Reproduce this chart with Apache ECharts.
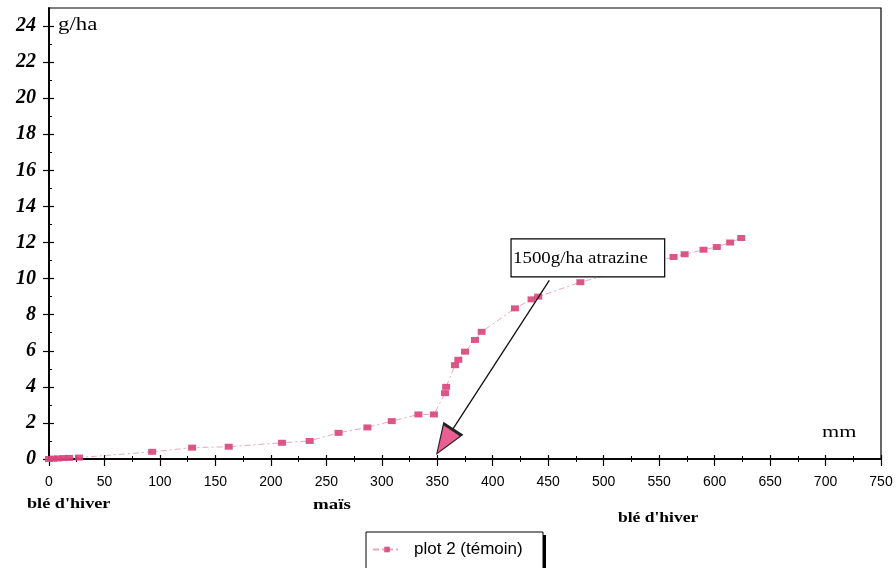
<!DOCTYPE html>
<html>
<head>
<meta charset="utf-8">
<script src="https://cdn.jsdelivr.net/npm/echarts@6/dist/echarts.min.js"></script>
<style>
  html, body { margin: 0; padding: 0; background: #fff; }
  #main { width: 896px; height: 568px; }
</style>
</head>
<body>
<div id="main"></div>
<script>
// pluie cumulée (mm) et atrazine cumulée (g/ha), plot 2 (témoin)
var rainMm = [0, 4, 8, 13, 18, 27, 93, 129, 162, 210, 235, 261, 287, 309, 333, 347,
  357, 358, 366, 369, 375, 384, 390, 420, 435, 441, 479, 563, 573, 590, 602, 614, 624];
var atrazine = [0, 0.02, 0.03, 0.05, 0.06, 0.08, 0.4, 0.63, 0.68, 0.9, 1.0, 1.45, 1.75, 2.1, 2.47, 2.47,
  3.65, 4.0, 5.2, 5.5, 5.95, 6.6, 7.05, 8.35, 8.85, 9.0, 9.8, 11.2, 11.35, 11.6, 11.75, 12.0, 12.25];
var yTicks = [0, 2, 4, 6, 8, 10, 12, 14, 16, 18, 20, 22, 24];
var seriesName = 'plot 2 (témoin)';
var note = '1500g/ha atrazine';

var pink = '#d8457b';
var serif = '"Liberation Serif", "DejaVu Serif", serif';
var sans = '"Liberation Sans", Arial, sans-serif';

var points = [];
for (var i = 0; i < rainMm.length; i++) {
  points.push([rainMm[i], atrazine[i]]);
}

var chart = echarts.init(document.getElementById('main'));

var baseX = {
  type: 'value', min: 0, max: 750, interval: 50, position: 'bottom',
  splitLine: {show: false},
  axisLine: {onZero: false, lineStyle: {color: '#000', width: 1.5}}
};
var baseY = {
  type: 'value', min: 0, max: 25, interval: 2, position: 'left',
  splitLine: {show: false},
  axisLine: {onZero: false, lineStyle: {color: '#000', width: 1.5}}
};

// flèche : trait noir, puis tête noire et tête rose par-dessus
var arrowFrom = [451, 9.9];
var arrowTip = [356.7, 0.96];
var arrowNear = [
  arrowTip[0] + 0.05 * (arrowFrom[0] - arrowTip[0]),
  arrowTip[1] + 0.05 * (arrowFrom[1] - arrowTip[1])
];

var option = {
  animation: false,
  grid: {
    left: 49, right: 15, top: 8, bottom: 109,
    show: true, borderColor: '#000', borderWidth: 1.2, backgroundColor: 'transparent'
  },
  legend: {
    left: 372, top: 541, z: 10,
    data: [seriesName],
    padding: 0,
    itemWidth: 28, itemHeight: 7,
    textStyle: {fontFamily: sans, fontSize: 17, color: '#000', padding: [0, 0, 0, 8]}
  },
  xAxis: [
    echarts.util.merge({
      axisTick: {show: true, inside: false, length: 7, lineStyle: {color: '#000', width: 1.2}},
      minorTick: {show: true, splitNumber: 2, length: 3, lineStyle: {color: '#000'}},
      axisLabel: {margin: 16, fontFamily: sans, fontSize: 14, color: '#000'}
    }, baseX, true),
    echarts.util.merge({
      axisTick: {show: true, inside: true, length: 4, lineStyle: {color: '#000', width: 1.2}},
      minorTick: {show: true, splitNumber: 2, length: 3, lineStyle: {color: '#000'}},
      axisLabel: {show: false}
    }, baseX, true)
  ],
  yAxis: [
    echarts.util.merge({
      axisTick: {show: true, inside: false, length: 6, customValues: yTicks, lineStyle: {color: '#000', width: 1.2}},
      axisLabel: {
        margin: 13, customValues: yTicks,
        fontFamily: serif, fontSize: 20, fontWeight: 'bold', fontStyle: 'italic', color: '#000'
      }
    }, baseY, true),
    echarts.util.merge({
      axisTick: {show: true, inside: true, length: 5, customValues: yTicks, lineStyle: {color: '#000', width: 1.2}},
      minorTick: {show: true, splitNumber: 2, length: 3, lineStyle: {color: '#000'}},
      axisLabel: {show: false}
    }, baseY, true)
  ],
  series: [{
    name: seriesName,
    type: 'line',
    xAxisIndex: 0, yAxisIndex: 0,
    data: points,
    symbol: 'rect',
    symbolSize: [8, 6],
    itemStyle: {color: pink, opacity: 0.9},
    lineStyle: {color: '#eaa6bf', width: 1, type: [6, 3, 2, 3]},
    z: 3,
    markLine: {
      silent: true,
      symbol: 'none',
      label: {show: false},
      data: [
        [{coord: arrowFrom, lineStyle: {color: '#111', width: 1.3, type: 'solid'}},
         {coord: arrowTip}],
        [{coord: arrowNear, symbol: 'none', lineStyle: {color: '#222', width: 1, type: 'solid'}},
         {coord: arrowTip, symbol: 'triangle', symbolSize: [24, 32]}],
        [{coord: arrowNear, symbol: 'none', lineStyle: {color: '#ea5f92', width: 1, type: 'solid'}},
         {coord: arrowTip, symbol: 'triangle', symbolSize: [19, 26]}]
      ]
    }
  }]
};

chart.setOption(option);

// cadre de l'annotation, placé avec les échelles du graphique
var boxTL = chart.convertToPixel({gridIndex: 0}, [416.5, 12.2]);
var boxBR = chart.convertToPixel({gridIndex: 0}, [555, 10.1]);

function label(txt, x, y, font, sx) {
  return {
    type: 'text', z: 101, x: x, y: y, scaleX: sx,
    style: {text: txt, font: font, fill: '#000', textVerticalAlign: 'top'}
  };
}

chart.setOption({
  graphic: [
    {
      type: 'rect', z: 100,
      shape: {x: boxTL[0], y: boxTL[1], width: boxBR[0] - boxTL[0], height: boxBR[1] - boxTL[1]},
      style: {fill: '#fff', stroke: '#000', lineWidth: 1.2}
    },
    label(note, boxTL[0] + 2, (boxTL[1] + boxBR[1]) / 2 - 7, '16px ' + serif, 1.18),
    label('g/ha', 58, 16, '19px ' + serif, 1.2),
    label('mm', 822, 424, '17px ' + serif, 1.3),
    label("blé d'hiver", 27, 497, 'bold 14px ' + serif, 1.3),
    label('maïs', 313, 498, 'bold 14px ' + serif, 1.35),
    label("blé d'hiver", 618, 511, 'bold 14px ' + serif, 1.25),
    // cadre de la légende avec son ombre à droite
    {
      type: 'rect', z: 1,
      shape: {x: 369, y: 535, width: 177, height: 40},
      style: {fill: '#000'}
    },
    {
      type: 'rect', z: 2,
      shape: {x: 366, y: 532, width: 177, height: 40},
      style: {fill: '#fff', stroke: '#000', lineWidth: 1}
    }
  ]
});
</script>
</body>
</html>
